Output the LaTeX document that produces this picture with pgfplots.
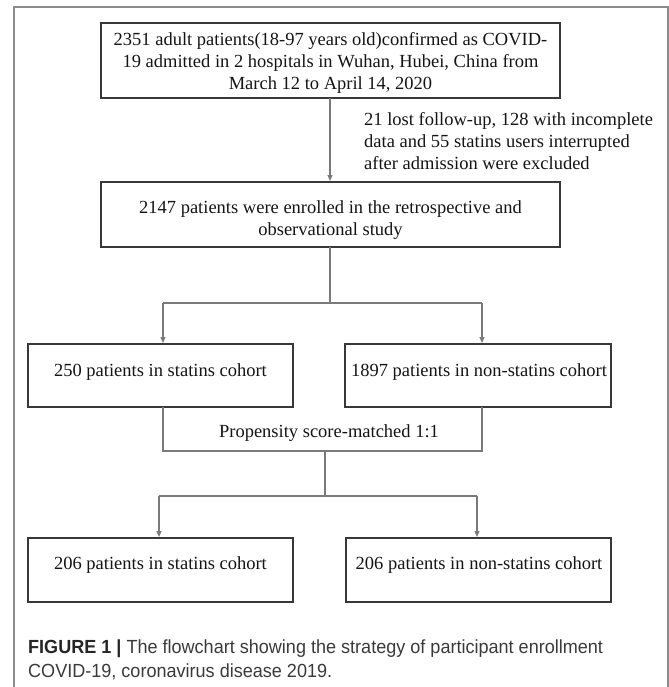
\documentclass[border=0pt]{standalone}
\usepackage{pgfplots}
\pgfplotsset{compat=1.18}
\usepackage{fontspec}
\setmainfont{Liberation Serif}
\newfontfamily\capfont[FakeStretch=0.95]{Liberation Sans}
\usetikzlibrary{arrows.meta}
\definecolor{boxc}{HTML}{383838}
\definecolor{linec}{HTML}{7A7A7A}
\definecolor{framec}{HTML}{8C8C8C}
\definecolor{txt}{HTML}{141414}
\definecolor{captxt}{HTML}{3A3A3A}
\begin{document}
\begin{tikzpicture}
\useasboundingbox (0,0) rectangle (669bp,687bp);
\begin{axis}[width=669bp,height=687bp,scale only axis,
  xmin=0,xmax=669,ymin=0,ymax=687,y dir=reverse,hide axis,clip=false,
  at={(0bp,687bp)},anchor=origin]
% outer frame (open at the bottom)
\addplot[framec,line width=1.3bp] coordinates {(14,687) (14,7) (668,7) (668,687)};
% boxes
\addplot[boxc,line width=1.4bp] coordinates {(101,23) (560,23) (560,98) (101,98)} -- cycle;
\addplot[boxc,line width=1.4bp] coordinates {(101,182) (560,182) (560,247) (101,247)} -- cycle;
\addplot[boxc,line width=1.4bp] coordinates {(28,344) (293,344) (293,407) (28,407)} -- cycle;
\addplot[boxc,line width=1.4bp] coordinates {(345,344) (611,344) (611,407) (345,407)} -- cycle;
\addplot[boxc,line width=1.4bp] coordinates {(28,538) (293,538) (293,602) (28,602)} -- cycle;
\addplot[boxc,line width=1.4bp] coordinates {(346,538) (611,538) (611,602) (346,602)} -- cycle;
% connectors
\addplot[linec,line width=1.2bp,-{Triangle[length=6bp,width=5bp]}] coordinates {(330,98) (330,181)};
\addplot[linec,line width=1.2bp] coordinates {(330,247) (330,303)};
\addplot[linec,line width=1.2bp] coordinates {(163,303) (482,303)};
\addplot[linec,line width=1.2bp,-{Triangle[length=6bp,width=5bp]}] coordinates {(163,303) (163,343)};
\addplot[linec,line width=1.2bp,-{Triangle[length=6bp,width=5bp]}] coordinates {(482,303) (482,343)};
\addplot[linec,line width=1.2bp] coordinates {(163,407) (163,451) (482,451) (482,407)};
\addplot[linec,line width=1.2bp] coordinates {(325,451) (325,496)};
\addplot[linec,line width=1.2bp] coordinates {(159,496) (477,496)};
\addplot[linec,line width=1.2bp,-{Triangle[length=6bp,width=5bp]}] coordinates {(159,496) (159,537)};
\addplot[linec,line width=1.2bp,-{Triangle[length=6bp,width=5bp]}] coordinates {(477,496) (477,537)};
% texts
\tikzset{ft/.style={txt,inner sep=0pt,font=\fontsize{18.5bp}{22bp}\selectfont}}
\node[ft,align=center] at (axis cs:330.5,63) {2351 adult patients(18-97 years old)confirmed as COVID-\\19 admitted in 2 hospitals in Wuhan, Hubei, China from\\March 12 to April 14, 2020};
\node[ft,align=left,anchor=west] at (axis cs:364,141) {21 lost follow-up, 128 with incomplete\\data and 55 statins users interrupted\\after admission were excluded};
\node[ft,align=center] at (axis cs:330.5,220) {2147 patients were enrolled in the retrospective and\\observational study};
\node[ft] at (axis cs:160.5,372) {250 patients in statins cohort};
\node[ft] at (axis cs:479,372) {1897 patients in non-statins cohort};
\node[ft] at (axis cs:329,433) {Propensity score-matched 1:1};
\node[ft] at (axis cs:160.5,565) {206 patients in statins cohort};
\node[ft] at (axis cs:479,565) {206 patients in non-statins cohort};
% caption
\tikzset{cf/.style={captxt,inner sep=0pt,anchor=base west,font=\capfont\fontsize{19bp}{24bp}\selectfont}}
\node[cf] at (axis cs:28,653) {\textbf{\color{black!85}FIGURE 1 |} The flowchart showing the strategy of participant enrollment};
\node[cf] at (axis cs:28,677) {COVID-19, coronavirus disease 2019.};
\end{axis}
\end{tikzpicture}
\end{document}
